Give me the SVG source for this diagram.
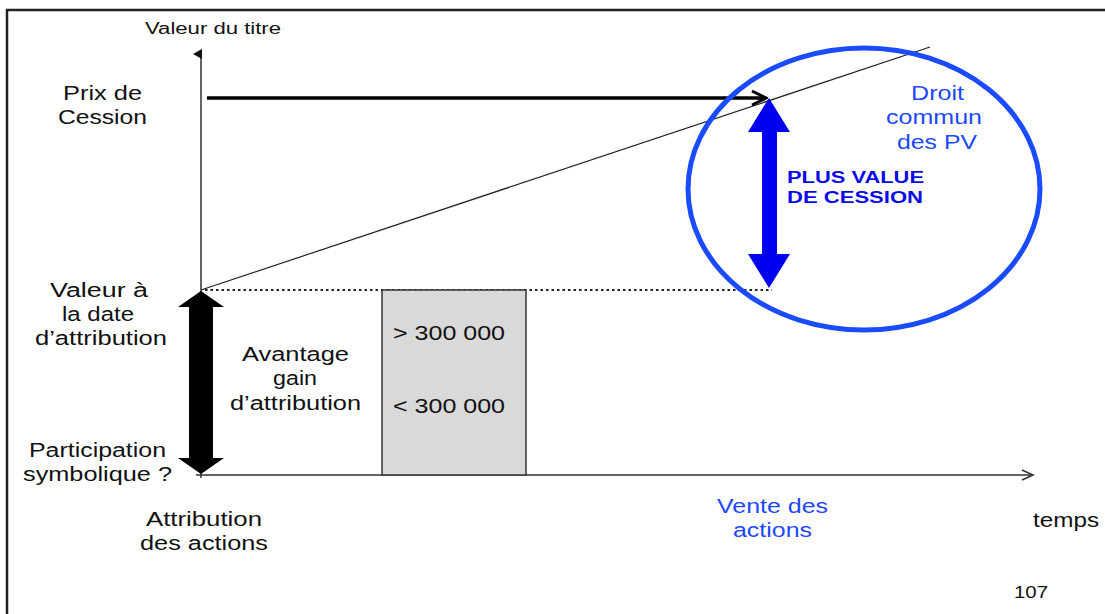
<svg xmlns="http://www.w3.org/2000/svg" width="1105" height="614" viewBox="0 0 1105 614">
<style>
text { font-family: "Liberation Sans", Arial, sans-serif; fill: #111; }
.lbl { font-size: 20px; }
.sm { font-size: 16px; }
.blue { fill: #2048ff; }
.bold { font-weight: bold; fill: #0a0ae8; font-size: 16px; }
.axis { stroke: #333; stroke-width: 1.5; fill: none; }
</style>
<defs>
<marker id="open" markerWidth="14" markerHeight="12" refX="12" refY="6" orient="auto" markerUnits="userSpaceOnUse">
<path d="M1,1 L12,6 L1,11" fill="none" stroke="#333" stroke-width="1.6"/>
</marker>
<marker id="tri" markerWidth="10" markerHeight="10" refX="5" refY="8" orient="auto" markerUnits="userSpaceOnUse">
<path d="M0,9 L5,0 L10,9 Z" fill="#111"/>
</marker>
<marker id="chev" markerWidth="18" markerHeight="18" refX="16" refY="9" orient="auto" markerUnits="userSpaceOnUse">
<path d="M2,2 L16,9 L2,16" fill="none" stroke="#000" stroke-width="3"/>
</marker>
</defs>
<rect width="1105" height="614" fill="#fff"/>
<g id="frame">
<path d="M7,614 L7,10 L1105,10" fill="none" stroke="#222" stroke-width="2.5"/>
</g>
<g id="connectors">
<line class="axis" x1="201" y1="478" x2="201" y2="54" marker-end="url(#tri)"/>
<line class="axis" x1="196" y1="475" x2="1033" y2="475" marker-end="url(#open)"/>
<line x1="201" y1="290" x2="930" y2="47" stroke="#222" stroke-width="1.2"/>
<line x1="205" y1="290" x2="772" y2="290" stroke="#222" stroke-width="2" stroke-dasharray="2.5,3"/>
<line x1="207" y1="98" x2="766" y2="98" stroke="#000" stroke-width="3.5" marker-end="url(#chev)"/>
<path id="blackArrow" d="M201,291 L224,307 L213,307 L213,458 L224,458 L201,474 L178,458 L189,458 L189,307 L178,307 Z" fill="#000"/>
<path id="blueArrow" d="M769,98 L790,132 L777,132 L777,254 L790,254 L769,288 L748,254 L762,254 L762,132 L748,132 Z" fill="#0000f0"/>
</g>
<g id="ellipse">
<ellipse cx="864" cy="189" rx="176" ry="141" fill="none" stroke="#1a4bff" stroke-width="5"/>
</g>
<g id="box">
<rect x="382" y="290" width="144" height="185" fill="#d9d9d9" stroke="#333" stroke-width="1.5"/>
<text class="lbl" x="393" y="340" textLength="112" lengthAdjust="spacingAndGlyphs">&gt; 300 000</text>
<text class="lbl" x="393" y="413" textLength="112" lengthAdjust="spacingAndGlyphs">&lt; 300 000</text>
</g>
<g id="ylabel">
<text class="sm" x="145" y="34" textLength="136" lengthAdjust="spacingAndGlyphs">Valeur du titre</text>
</g>
<g id="prix">
<text class="lbl" x="63" y="100" textLength="79" lengthAdjust="spacingAndGlyphs">Prix de</text>
<text class="lbl" x="58" y="124" textLength="89" lengthAdjust="spacingAndGlyphs">Cession</text>
</g>
<g id="valeur">
<text class="lbl" x="50" y="297" textLength="98" lengthAdjust="spacingAndGlyphs">Valeur à</text>
<text class="lbl" x="62" y="321" textLength="72" lengthAdjust="spacingAndGlyphs">la date</text>
<text class="lbl" x="35" y="345" textLength="132" lengthAdjust="spacingAndGlyphs">d’attribution</text>
</g>
<g id="participation">
<text class="lbl" x="29" y="457" textLength="137" lengthAdjust="spacingAndGlyphs">Participation</text>
<text class="lbl" x="23" y="481" textLength="149" lengthAdjust="spacingAndGlyphs">symbolique ?</text>
</g>
<g id="avantage">
<text class="lbl" x="242" y="361" textLength="107" lengthAdjust="spacingAndGlyphs">Avantage</text>
<text class="lbl" x="273" y="385" textLength="44" lengthAdjust="spacingAndGlyphs">gain</text>
<text class="lbl" x="230" y="410" textLength="131" lengthAdjust="spacingAndGlyphs">d’attribution</text>
</g>
<g id="attribution">
<text class="lbl" x="146" y="526" textLength="116" lengthAdjust="spacingAndGlyphs">Attribution</text>
<text class="lbl" x="140" y="550" textLength="128" lengthAdjust="spacingAndGlyphs">des actions</text>
</g>
<g id="vente">
<text class="lbl blue" x="717" y="513" textLength="111" lengthAdjust="spacingAndGlyphs">Vente des</text>
<text class="lbl blue" x="733" y="537" textLength="79" lengthAdjust="spacingAndGlyphs">actions</text>
</g>
<g id="temps">
<text class="lbl" x="1033" y="527" textLength="66" lengthAdjust="spacingAndGlyphs">temps</text>
</g>
<g id="droit">
<text class="lbl blue" x="911" y="100" textLength="53" lengthAdjust="spacingAndGlyphs">Droit</text>
<text class="lbl blue" x="886" y="124" textLength="96" lengthAdjust="spacingAndGlyphs">commun</text>
<text class="lbl blue" x="897" y="149" textLength="80" lengthAdjust="spacingAndGlyphs">des PV</text>
</g>
<g id="plusvalue">
<text class="bold" x="787" y="183" textLength="137" lengthAdjust="spacingAndGlyphs">PLUS VALUE</text>
<text class="bold" x="787" y="203" textLength="136" lengthAdjust="spacingAndGlyphs">DE CESSION</text>
</g>
<g id="page">
<text class="sm" x="1014" y="598" textLength="34" lengthAdjust="spacingAndGlyphs">107</text>
</g>
</svg>
